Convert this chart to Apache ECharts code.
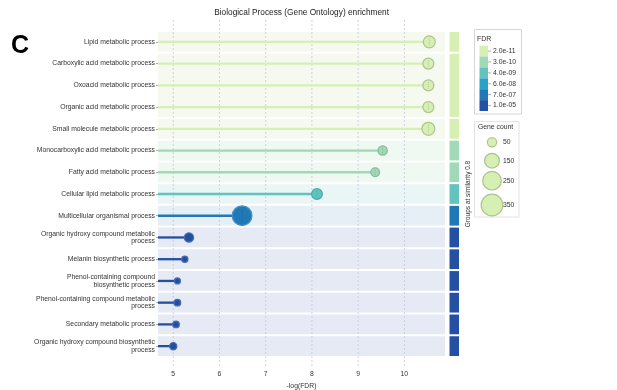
<!DOCTYPE html>
<html>
<head>
<meta charset="utf-8">
<script src="https://cdn.jsdelivr.net/npm/echarts@6/dist/echarts.min.js"></script>
<style>
  html, body { margin: 0; padding: 0; background: #fff; }
  #chart { width: 617px; height: 390px; }
</style>
</head>
<body>
<div id="chart"></div>
<script>
// GO biological process terms, top to bottom
const terms = [
  'Lipid metabolic process',
  'Carboxylic acid metabolic process',
  'Oxoacid metabolic process',
  'Organic acid metabolic process',
  'Small molecule metabolic process',
  'Monocarboxylic acid metabolic process',
  'Fatty acid metabolic process',
  'Cellular lipid metabolic process',
  'Multicellular organismal process',
  'Organic hydroxy compound metabolic\nprocess',
  'Melanin biosynthetic process',
  'Phenol-containing compound\nbiosynthetic process',
  'Phenol-containing compound metabolic\nprocess',
  'Secondary metabolic process',
  'Organic hydroxy compound biosynthetic\nprocess'
];
// -log10(FDR) per term
const negLogFdr = [10.54, 10.52, 10.52, 10.52, 10.52, 9.53, 9.37, 8.11, 6.49, 5.34, 5.25, 5.09, 5.09, 5.06, 5.00];
// number of genes per term
const geneCount = [92, 75, 75, 75, 111, 50, 42, 70, 283, 50, 18, 16, 21, 21, 27];
// cluster id of each term at similarity 0.8
const similarityGroup = [0, 1, 1, 1, 2, 3, 4, 5, 6, 7, 8, 9, 10, 11, 12];
// axis ticks and legend entries
const xTicks = [5, 6, 7, 8, 9, 10];
const fdrTickLabels = ['2.0e-11', '3.0e-10', '4.0e-09', '6.0e-08', '7.0e-07', '1.0e-05'];
const sizeLegendCounts = [50, 150, 250, 350];

// colour scale, one entry per FDR legend step
const palette = ['#d6efb3', '#a1d9b8', '#62c3bf', '#2aa2c8', '#2079b7', '#2350a2'];
const borderPalette = ['#adc38e', '#84b999', '#49a8a8', '#2a8bb0', '#4a90c6', '#4b6db3'];
const bandPalette = ['#f5f9f0', '#f0f8f2', '#eaf5f5', '#e7f1f6', '#e6eef6', '#e6eaf4'];

const X_MIN = 4.67, X_MAX = 10.88;
const FONT = '"Liberation Sans", Arial, Helvetica, sans-serif';
const TEXT = '#333';

const tickLogs = fdrTickLabels.map(s => -Math.log10(parseFloat(s)));
function fdrLevel(v) {
  let best = 0;
  tickLogs.forEach((t, k) => { if (Math.abs(t - v) < Math.abs(tickLogs[best] - v)) best = k; });
  return best;
}
function bubbleSize(n) { return 1.065 * Math.sqrt(n) + 1.77; }

const levels = negLogFdr.map(fdrLevel);

// contiguous runs of terms sharing a cluster
const groups = [];
similarityGroup.forEach((g, i) => {
  const last = groups[groups.length - 1];
  if (last && last.id === g) last.end = i;
  else groups.push({ id: g, start: i, end: i, level: levels[i] });
});

const chart = echarts.init(document.getElementById('chart'), null, { renderer: 'canvas' });

// legend graphics
const legend = [];
const fdrBox = { x: 474.5, y: 29.5, w: 47, h: 84.5 };
legend.push({ type: 'rect', shape: { x: fdrBox.x, y: fdrBox.y, width: fdrBox.w, height: fdrBox.h },
  style: { fill: '#fff', stroke: '#d6d6d6', lineWidth: 1 } });
legend.push({ type: 'text', x: 477, y: 38.7, style: { text: 'FDR', font: `7px ${FONT}`, fill: TEXT, verticalAlign: 'middle' } });
const blockH = 10.9;
fdrTickLabels.forEach((lab, k) => {
  const y0 = 45.6 + k * blockH;
  legend.push({ type: 'rect', shape: { x: 479.5, y: y0, width: 8.5, height: blockH }, style: { fill: palette[k] } });
  legend.push({ type: 'line', shape: { x1: 488, y1: y0 + blockH / 2, x2: 491, y2: y0 + blockH / 2 }, style: { stroke: '#777', lineWidth: 0.6 } });
  legend.push({ type: 'text', x: 493, y: y0 + blockH / 2, style: { text: lab, font: `6.8px ${FONT}`, fill: TEXT, verticalAlign: 'middle' } });
});

const sizeBox = { x: 474.5, y: 121.7, w: 44.5, h: 95.3 };
legend.push({ type: 'rect', shape: { x: sizeBox.x, y: sizeBox.y, width: sizeBox.w, height: sizeBox.h },
  style: { fill: '#fff', stroke: '#e2e2e2', lineWidth: 1 } });
legend.push({ type: 'text', x: 478, y: 127.5, style: { text: 'Gene count', font: `6.8px ${FONT}`, fill: TEXT, verticalAlign: 'middle' } });
const sizeLegendY = [142.3, 160.7, 180.7, 205];
sizeLegendCounts.forEach((n, k) => {
  legend.push({ type: 'circle', shape: { cx: 492, cy: sizeLegendY[k], r: bubbleSize(n) / 2 },
    style: { fill: palette[0], stroke: borderPalette[0], lineWidth: 1.2 } });
  legend.push({ type: 'text', x: 503, y: sizeLegendY[k], style: { text: String(n), font: `6.8px ${FONT}`, fill: TEXT, verticalAlign: 'middle' } });
});

const option = {
  animation: false,
  backgroundColor: '#fff',
  grid: { left: 158, right: 172, top: 31, bottom: 33, containLabel: false, outerBoundsMode: 'none' },
  xAxis: {
    type: 'value', min: X_MIN, max: X_MAX, splitNumber: 6,
    axisLine: { show: false }, axisTick: { show: false }, splitLine: { show: false },
    axisLabel: {
      margin: 14, fontSize: 6.8, color: TEXT, fontFamily: FONT,
      formatter: v => (Math.abs(v - Math.round(v)) < 1e-6 ? String(Math.round(v)) : '')
    },
    name: '-log(FDR)', nameLocation: 'middle', nameGap: 24,
    nameTextStyle: { fontSize: 6.8, color: TEXT, fontFamily: FONT }
  },
  yAxis: {
    type: 'category', inverse: true, data: terms,
    axisLine: { show: false },
    axisTick: { show: true, length: 2, alignWithLabel: true, lineStyle: { color: '#888', width: 0.7 } },
    axisLabel: { margin: 3, fontSize: 6.8, lineHeight: 7.6, color: TEXT, fontFamily: FONT, align: 'right' },
    splitLine: { show: false }
  },
  graphic: [
    { type: 'text', x: 11, y: 33.3, style: { text: 'C', font: `bold 25px ${FONT}`, fill: '#000', verticalAlign: 'alphabetic' } },
    { type: 'text', x: 301.6, y: 13.2, style: { text: 'Biological Process (Gene Ontology) enrichment', font: `8.3px ${FONT}`, fill: '#222', align: 'center', verticalAlign: 'middle' } },
    { type: 'text', x: 468.3, y: 194, rotation: Math.PI / 2,
      style: { text: 'Groups at similarity 0.8', font: `6.5px ${FONT}`, fill: TEXT, align: 'center', verticalAlign: 'middle' } },
    ...legend
  ],
  series: [
    {
      // row bands and cluster strip
      type: 'custom', z: 1, silent: true,
      encode: { x: 0, y: 1 },
      data: groups.map(g => [X_MIN, g.start]),
      renderItem: (params, api) => {
        const g = groups[params.dataIndex];
        const l = api.coord([X_MIN, g.start]);
        const r = api.coord([X_MAX, g.start]);
        const h = api.size([0, 1])[1];
        const top = l[1] - h / 2 + 1;
        const height = (g.end - g.start + 1) * h - 2;
        return { type: 'group', children: [
          { type: 'rect', shape: { x: l[0], y: top, width: r[0] - l[0], height }, style: { fill: bandPalette[g.level] } },
          { type: 'rect', shape: { x: r[0] + 4.5, y: top, width: 9.5, height }, style: { fill: palette[g.level] } }
        ] };
      }
    },
    {
      // vertical dashed grid lines
      type: 'custom', z: 2, silent: true,
      encode: { x: 0, y: 1 },
      data: xTicks.map(v => [v, 0]),
      renderItem: (params, api) => {
        const v = xTicks[params.dataIndex];
        const h = api.size([0, 1])[1];
        const a = api.coord([v, 0]);
        const b = api.coord([v, terms.length - 1]);
        return { type: 'line', shape: { x1: a[0], y1: a[1] - h / 2 - 11, x2: a[0], y2: b[1] + h / 2 + 11 },
          style: { stroke: '#c3c8dc', lineWidth: 0.8, lineDash: [2, 2] } };
      }
    },
    {
      // lollipop stems
      type: 'custom', z: 3, silent: true,
      encode: { x: 0, y: 1 },
      data: negLogFdr.map((v, i) => [v, i]),
      renderItem: (params, api) => {
        const i = params.dataIndex;
        const p0 = api.coord([X_MIN, i]);
        const p1 = api.coord([negLogFdr[i], i]);
        return { type: 'line', shape: { x1: p0[0], y1: p0[1], x2: p1[0], y2: p1[1] },
          style: { stroke: palette[levels[i]], lineWidth: 2.3 } };
      }
    },
    {
      type: 'scatter', z: 4,
      data: negLogFdr.map((v, i) => ({
        value: [v, i],
        symbolSize: bubbleSize(geneCount[i]),
        itemStyle: { color: palette[levels[i]], borderColor: borderPalette[levels[i]], borderWidth: 1.2, opacity: 1 }
      }))
    },
    {
      // centre marks on bubbles
      type: 'custom', z: 5, silent: true,
      encode: { x: 0, y: 1 },
      data: negLogFdr.map((v, i) => [v, i]),
      renderItem: (params, api) => {
        const i = params.dataIndex;
        const c = api.coord([negLogFdr[i], i]);
        const r = bubbleSize(geneCount[i]) / 2;
        return { type: 'line', shape: { x1: c[0], y1: c[1] - r * 0.6, x2: c[0], y2: c[1] + r * 0.6 },
          style: { stroke: 'rgba(40,60,30,0.3)', lineWidth: 0.6, lineDash: [1.2, 0.8] } };
      }
    }
  ]
};
chart.setOption(option);
</script>
</body>
</html>
